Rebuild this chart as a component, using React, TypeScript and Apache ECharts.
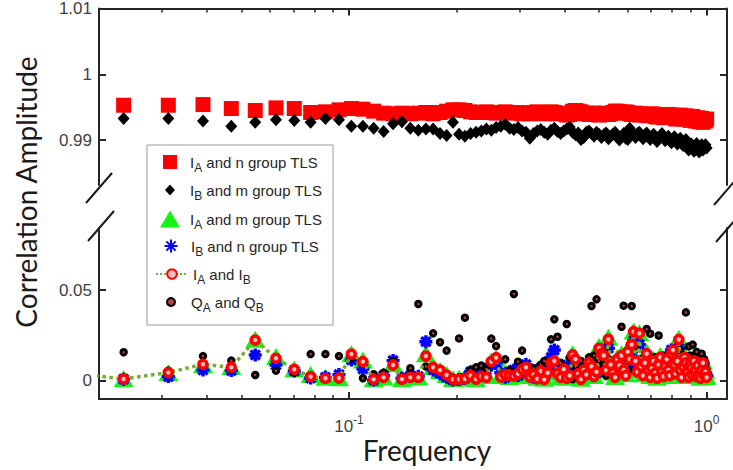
import React, { useEffect, useRef } from 'react';
import * as echarts from 'echarts';

// Frequency grid: k / 128 for k = 3 .. 128 (the I_A/I_B line also has a point at k = 2)
const K_START = 3;
const FREQ_STEP = 1 / 128;

const X_MIN = 0.02;
const X_MAX = 1.14;
const X_TICKS_MINOR = [0.03, 0.04, 0.05, 0.06, 0.07, 0.08, 0.09, 0.2, 0.3, 0.4, 0.5, 0.6, 0.7, 0.8, 0.9];
const X_TICKS_MAJOR = [0.1, 1];
const Y_TOP_RANGE = [0.98318, 1.01];
const Y_BOTTOM_RANGE = [-0.0099, 0.0841];
const Y_TOP_TICKS = [0.99, 1, 1.01];
const Y_BOTTOM_TICKS = [0, 0.05];

// I_A and n group TLS (red squares), k = 3..128
const IA_N_TLS = [
  0.9953, 0.9953, 0.9954, 0.9948, 0.9945, 0.9949, 0.9948, 0.9942, 0.9943, 0.9946,
  0.9948, 0.9947, 0.9944, 0.9941, 0.9940, 0.9941, 0.9940, 0.9941, 0.9942, 0.9940,
  0.9942, 0.9944, 0.9946, 0.9946, 0.9945, 0.9943, 0.9942, 0.9942, 0.9943, 0.9942,
  0.9941, 0.9942, 0.9943, 0.9942, 0.9941, 0.9942, 0.9940, 0.9941, 0.9940, 0.9942,
  0.9943, 0.9941, 0.9940, 0.9942, 0.9943, 0.9942, 0.9940, 0.9941, 0.9940, 0.9938,
  0.9939, 0.9944, 0.9945, 0.9944, 0.9943, 0.9940, 0.9941, 0.9939, 0.9940, 0.9941,
  0.9939, 0.9938, 0.9940, 0.9941, 0.9940, 0.9939, 0.9940, 0.9942, 0.9944, 0.9944,
  0.9943, 0.9942, 0.9941, 0.9943, 0.9942, 0.9940, 0.9939, 0.9940, 0.9941, 0.9939,
  0.9938, 0.9940, 0.9939, 0.9938, 0.9939, 0.9937, 0.9938, 0.9940, 0.9939, 0.9936,
  0.9935, 0.9937, 0.9938, 0.9936, 0.9934, 0.9937, 0.9938, 0.9939, 0.9937, 0.9936,
  0.9938, 0.9935, 0.9932, 0.9936, 0.9937, 0.9938, 0.9934, 0.9932, 0.9935, 0.9937,
  0.9936, 0.9933, 0.9930, 0.9934, 0.9936, 0.9932, 0.9929, 0.9931, 0.9934, 0.9928,
  0.9930, 0.9933, 0.9927, 0.9931, 0.9929, 0.9932,
];

// I_B and m group TLS (black diamonds), k = 3..128
const IB_M_TLS = [
  0.9933, 0.9933, 0.9929, 0.9921, 0.9927, 0.9931, 0.9930, 0.9927, 0.9933, 0.9931,
  0.9921, 0.9921, 0.9918, 0.9913, 0.9925, 0.9928, 0.9918, 0.9915, 0.9917, 0.9917,
  0.9910, 0.9907, 0.9927, 0.9909, 0.9906, 0.9910, 0.9912, 0.9914, 0.9917, 0.9915,
  0.9919, 0.9921, 0.9924, 0.9918, 0.9916, 0.9919, 0.9914, 0.9912, 0.9903, 0.9910,
  0.9914, 0.9916, 0.9912, 0.9909, 0.9915, 0.9918, 0.9913, 0.9910, 0.9914, 0.9917,
  0.9920, 0.9912, 0.9908, 0.9911, 0.9901, 0.9904, 0.9912, 0.9914, 0.9910, 0.9906,
  0.9912, 0.9909, 0.9904, 0.9908, 0.9911, 0.9902, 0.9906, 0.9909, 0.9912, 0.9905,
  0.9900, 0.9906, 0.9910, 0.9903, 0.9901, 0.9918, 0.9912, 0.9908, 0.9904, 0.9910,
  0.9912, 0.9906, 0.9902, 0.9908, 0.9911, 0.9905, 0.9901, 0.9906, 0.9909, 0.9903,
  0.9898, 0.9902, 0.9907, 0.9910, 0.9904, 0.9899, 0.9903, 0.9906, 0.9901, 0.9896,
  0.9900, 0.9905, 0.9899, 0.9894, 0.9898, 0.9903, 0.9897, 0.9892, 0.9896, 0.9901,
  0.9890, 0.9885, 0.9889, 0.9894, 0.9886, 0.9883, 0.9891, 0.9895, 0.9886, 0.9882,
  0.9889, 0.9893, 0.9885, 0.9890, 0.9893, 0.9888,
];

// I_A and m group TLS (green triangles), k = 3..128
const IA_M_TLS = [
  0.0012, 0.0045, 0.0090, 0.0080, 0.0230, 0.0135, 0.0066, 0.0035, 0.0020, 0.0018,
  0.0150, 0.0115, 0.0012, 0.0022, 0.0095, 0.0012, 0.0025, 0.0022, 0.0150, 0.0080,
  0.0058, 0.0035, 0.0012, 0.0015, 0.0020, 0.0045, 0.0012, 0.0030, 0.0035, 0.0110,
  0.0125, 0.0030, 0.0040, 0.0025, 0.0045, 0.0035, 0.0070, 0.0085, 0.0030, 0.0040,
  0.0020, 0.0060, 0.0015, 0.0050, 0.0110, 0.0120, 0.0050, 0.0025, 0.0070, 0.0020,
  0.0035, 0.0150, 0.0130, 0.0045, 0.0015, 0.0070, 0.0040, 0.0110, 0.0090, 0.0030,
  0.0060, 0.0190, 0.0160, 0.0150, 0.0070, 0.0240, 0.0100, 0.0050, 0.0025, 0.0130,
  0.0090, 0.0150, 0.0070, 0.0040, 0.0170, 0.0130, 0.0210, 0.0275, 0.0120, 0.0060,
  0.0265, 0.0090, 0.0040, 0.0110, 0.0160, 0.0070, 0.0030, 0.0080, 0.0120, 0.0050,
  0.0020, 0.0100, 0.0140, 0.0060, 0.0030, 0.0090, 0.0130, 0.0070, 0.0040, 0.0160,
  0.0180, 0.0100, 0.0050, 0.0120, 0.0235, 0.0070, 0.0030, 0.0090, 0.0140, 0.0110,
  0.0060, 0.0030, 0.0100, 0.0080, 0.0040, 0.0120, 0.0070, 0.0030, 0.0090, 0.0050,
  0.0020, 0.0070, 0.0110, 0.0040, 0.0060, 0.0025,
];

// I_B and n group TLS (blue asterisks), k = 3..128
const IB_N_TLS = [
  0.0010, 0.0024, 0.0060, 0.0057, 0.0143, 0.0088, 0.0055, 0.0016, 0.0020, 0.0035,
  0.0115, 0.0066, 0.0005, 0.0030, 0.0112, 0.0015, 0.0030, 0.0025, 0.0216, 0.0060,
  0.0040, 0.0020, 0.0005, 0.0008, 0.0015, 0.0050, 0.0020, 0.0040, 0.0060, 0.0090,
  0.0100, 0.0045, 0.0020, 0.0050, 0.0060, 0.0030, 0.0050, 0.0090, 0.0040, 0.0020,
  0.0035, 0.0070, 0.0020, 0.0060, 0.0130, 0.0170, 0.0060, 0.0035, 0.0080, 0.0030,
  0.0050, 0.0110, 0.0100, 0.0060, 0.0025, 0.0080, 0.0050, 0.0070, 0.0110, 0.0040,
  0.0045, 0.0150, 0.0170, 0.0120, 0.0090, 0.0180, 0.0080, 0.0060, 0.0040, 0.0100,
  0.0110, 0.0120, 0.0080, 0.0050, 0.0140, 0.0090, 0.0160, 0.0220, 0.0100, 0.0070,
  0.0200, 0.0060, 0.0050, 0.0080, 0.0130, 0.0080, 0.0040, 0.0060, 0.0090, 0.0060,
  0.0030, 0.0070, 0.0110, 0.0070, 0.0040, 0.0060, 0.0100, 0.0080, 0.0050, 0.0170,
  0.0140, 0.0070, 0.0060, 0.0090, 0.0180, 0.0080, 0.0040, 0.0060, 0.0110, 0.0080,
  0.0070, 0.0040, 0.0070, 0.0090, 0.0050, 0.0090, 0.0080, 0.0040, 0.0070, 0.0060,
  0.0030, 0.0050, 0.0090, 0.0050, 0.0040, 0.0030,
];

// I_A and I_B (red circles on dotted line): value at k = 2, then k = 3..128
const IA_IB_K2 = 0.005;
const IA_IB = [
  0.0011, 0.0046, 0.0092, 0.0075, 0.0225, 0.0125, 0.0064, 0.0024, 0.0015, 0.0016,
  0.0148, 0.0106, 0.0009, 0.0020, 0.0088, 0.0010, 0.0020, 0.0020, 0.0137, 0.0075,
  0.0060, 0.0033, 0.0010, 0.0010, 0.0012, 0.0030, 0.0010, 0.0025, 0.0020, 0.0107,
  0.0128, 0.0022, 0.0035, 0.0030, 0.0028, 0.0040, 0.0065, 0.0075, 0.0022, 0.0035,
  0.0012, 0.0055, 0.0008, 0.0045, 0.0100, 0.0110, 0.0040, 0.0020, 0.0065, 0.0015,
  0.0030, 0.0143, 0.0120, 0.0040, 0.0010, 0.0060, 0.0035, 0.0100, 0.0080, 0.0025,
  0.0050, 0.0180, 0.0150, 0.0140, 0.0060, 0.0229, 0.0090, 0.0045, 0.0020, 0.0120,
  0.0085, 0.0140, 0.0060, 0.0030, 0.0160, 0.0120, 0.0200, 0.0271, 0.0110, 0.0050,
  0.0262, 0.0080, 0.0030, 0.0100, 0.0150, 0.0060, 0.0020, 0.0070, 0.0110, 0.0045,
  0.0015, 0.0090, 0.0130, 0.0050, 0.0025, 0.0080, 0.0120, 0.0060, 0.0030, 0.0150,
  0.0170, 0.0090, 0.0040, 0.0110, 0.0228, 0.0060, 0.0020, 0.0080, 0.0130, 0.0100,
  0.0050, 0.0020, 0.0090, 0.0070, 0.0030, 0.0110, 0.0060, 0.0025, 0.0085, 0.0040,
  0.0015, 0.0060, 0.0100, 0.0030, 0.0050, 0.0020,
];

// Q_A and Q_B (black circles), k = 3..128
const QA_QB = [
  0.0158, 0.0057, 0.0137, 0.0112, 0.0033, 0.0057, 0.0046, 0.0148, 0.0148, 0.0137,
  0.0125, 0.0015, 0.0037, 0.0046, 0.0110, 0.0024, 0.0070, 0.0423, 0.0080, 0.0262,
  0.0213, 0.0167, 0.0005, 0.0234, 0.0348, 0.0060, 0.0075, 0.0085, 0.0065, 0.0233,
  0.0192, 0.0033, 0.0119, 0.0060, 0.0478, 0.0106, 0.0167, 0.0070, 0.0024, 0.0070,
  0.0040, 0.0090, 0.0110, 0.0060, 0.0229, 0.0339, 0.0243, 0.0100, 0.0050, 0.0313,
  0.0130, 0.0010, 0.0080, 0.0040, 0.0110, 0.0020, 0.0060, 0.0130, 0.0412, 0.0140,
  0.0449, 0.0110, 0.0060, 0.0090, 0.0030, 0.0120, 0.0050, 0.0080, 0.0100, 0.0040,
  0.0070, 0.0298, 0.0414, 0.0100, 0.0060, 0.0200, 0.0412, 0.0110, 0.0190, 0.0050,
  0.0120, 0.0080, 0.0030, 0.0100, 0.0286, 0.0150, 0.0260, 0.0110, 0.0070, 0.0130,
  0.0040, 0.0250, 0.0100, 0.0060, 0.0140, 0.0030, 0.0110, 0.0080, 0.0120, 0.0050,
  0.0090, 0.0140, 0.0060, 0.0100, 0.0030, 0.0170, 0.0080, 0.0120, 0.0060, 0.0377,
  0.0100, 0.0190, 0.0140, 0.0070, 0.0200, 0.0110, 0.0050, 0.0160, 0.0090, 0.0130,
  0.0040, 0.0150, 0.0070, 0.0120, 0.0100, 0.0060,
];

const NAMES = {
  ian: 'IA and n group TLS',
  ibm: 'IB and m group TLS',
  iam: 'IA and m group TLS',
  ibn: 'IB and n group TLS',
  iaib: 'IA and IB',
  qaqb: 'QA and QB',
};

const LEGEND_LABELS: Record<string, string> = {
  [NAMES.ian]: '{m|I}{s|A}{m| and n group TLS}',
  [NAMES.ibm]: '{m|I}{s|B}{m| and m group TLS}',
  [NAMES.iam]: '{m|I}{s|A}{m| and m group TLS}',
  [NAMES.ibn]: '{m|I}{s|B}{m| and n group TLS}',
  [NAMES.iaib]: '{m|I}{s|A}{m| and I}{s|B}',
  [NAMES.qaqb]: '{m|Q}{s|A}{m| and Q}{s|B}',
};

const AX = '#262626';
const TICK_FONT = 'Liberation Sans';
const TITLE_FONT = 'Lato';
const STAR_PATH = 'path://M0,-10L0,10M-10,0L10,0M-7.07,-7.07L7.07,7.07M-7.07,7.07L7.07,-7.07';

const toPts = (arr: number[]) => arr.map((v, i) => [(K_START + i) * FREQ_STEP, v]);

export default function App() {
  const ref = useRef<HTMLDivElement>(null);

  useEffect(() => {
    if (!ref.current) return;
    const chart = echarts.init(ref.current, null, { renderer: 'svg' });

    const gridL = 99;
    const gridR = 6;
    const grids = [
      { left: gridL, right: gridR, top: 8, height: 177 },
      { left: gridL, right: gridR, top: 228, height: 171 },
    ];

    const baseX = (gridIndex: number, position: string) => ({
      type: 'log',
      logBase: 10,
      gridIndex,
      position,
      min: X_MIN,
      max: X_MAX,
      splitLine: { show: false },
      axisLine: { show: true, onZero: false, lineStyle: { color: AX, width: 2 } },
    });

    const xLabelRich = {
      b: { fontSize: 17, fontFamily: TICK_FONT, color: '#404040', lineHeight: 20 },
      s: { fontSize: 12, fontFamily: TICK_FONT, color: '#404040', lineHeight: 20, padding: [0, 0, 12, 0] },
    };

    const xAxis: any[] = [
      {
        ...baseX(0, 'top'),
        axisTick: { show: true, inside: true, length: 4, customValues: X_TICKS_MINOR, lineStyle: { color: AX, width: 1.5 } },
        axisLabel: { show: false },
      },
      {
        ...baseX(1, 'bottom'),
        axisTick: { show: true, inside: true, length: 4, customValues: X_TICKS_MINOR, lineStyle: { color: AX, width: 1.5 } },
        axisLabel: {
          show: true,
          customValues: X_TICKS_MAJOR,
          margin: 17,
          formatter: (v: number) => (Math.abs(v - 1) < 1e-9 ? '{b|10}{s|0}' : '{b|10}{s|-1}'),
          rich: xLabelRich,
        },
      },
      {
        ...baseX(0, 'top'),
        axisLine: { show: false, onZero: false },
        axisTick: { show: true, inside: true, length: 7, customValues: X_TICKS_MAJOR, lineStyle: { color: AX, width: 2 } },
        axisLabel: { show: false },
      },
      {
        ...baseX(1, 'bottom'),
        axisLine: { show: false, onZero: false },
        axisTick: { show: true, inside: true, length: 7, customValues: X_TICKS_MAJOR, lineStyle: { color: AX, width: 2 } },
        axisLabel: { show: false },
      },
    ];

    const baseY = (gridIndex: number, position: string, range: number[], ticks: number[], labels: boolean) => ({
      type: 'value',
      gridIndex,
      position,
      min: range[0],
      max: range[1],
      splitLine: { show: false },
      axisLine: { show: true, onZero: false, lineStyle: { color: AX, width: 2 } },
      axisTick: { show: true, inside: true, length: 7, customValues: ticks, lineStyle: { color: AX, width: 2 } },
      axisLabel: labels
        ? { show: true, customValues: ticks, margin: 7, fontSize: 17, fontFamily: TICK_FONT, color: '#404040' }
        : { show: false },
    });

    const yAxis: any[] = [
      baseY(0, 'left', Y_TOP_RANGE, Y_TOP_TICKS, true),
      baseY(0, 'right', Y_TOP_RANGE, Y_TOP_TICKS, false),
      baseY(1, 'left', Y_BOTTOM_RANGE, Y_BOTTOM_TICKS, true),
      baseY(1, 'right', Y_BOTTOM_RANGE, Y_BOTTOM_TICKS, false),
    ];

    const series: any[] = [
      {
        name: NAMES.ian,
        type: 'scatter',
        xAxisIndex: 0,
        yAxisIndex: 0,
        symbol: 'rect',
        symbolSize: 15,
        itemStyle: { color: '#ff0000', opacity: 1 },
        data: toPts(IA_N_TLS),
      },
      {
        name: NAMES.ibm,
        type: 'scatter',
        xAxisIndex: 0,
        yAxisIndex: 0,
        symbol: 'diamond',
        symbolSize: [12, 13],
        itemStyle: { color: '#000000', opacity: 1 },
        data: toPts(IB_M_TLS),
      },
      {
        name: NAMES.iam,
        type: 'scatter',
        xAxisIndex: 1,
        yAxisIndex: 2,
        symbol: 'triangle',
        symbolSize: [20, 17],
        itemStyle: { color: '#19f019', opacity: 1 },
        data: toPts(IA_M_TLS),
      },
      {
        name: NAMES.ibn,
        type: 'scatter',
        xAxisIndex: 1,
        yAxisIndex: 2,
        symbol: STAR_PATH,
        symbolSize: 13,
        itemStyle: { color: '#0000ff', borderColor: '#0000ff', borderWidth: 3.4, opacity: 1 },
        data: toPts(IB_N_TLS),
      },
      {
        name: NAMES.iaib,
        type: 'line',
        xAxisIndex: 1,
        yAxisIndex: 2,
        symbol: 'circle',
        symbolSize: 8,
        showSymbol: true,
        showAllSymbol: true,
        clip: true,
        lineStyle: { color: '#77ac30', width: 3.5, type: 'dotted' },
        itemStyle: { color: '#ffc0c0', borderColor: '#ff0000', borderWidth: 3.6, opacity: 1 },
        data: [[2 * FREQ_STEP, IA_IB_K2], ...toPts(IA_IB)],
      },
      {
        name: NAMES.qaqb,
        type: 'scatter',
        xAxisIndex: 1,
        yAxisIndex: 2,
        symbol: 'circle',
        symbolSize: 5.5,
        itemStyle: { color: '#c04040', borderColor: '#000000', borderWidth: 3, opacity: 1 },
        data: toPts(QA_QB),
      },
    ];

    const rows = [166, 194, 222, 250, 278, 306];
    const legendSpec = [
      { name: NAMES.ian, w: 14, h: 14 },
      { name: NAMES.ibm, w: 10, h: 11 },
      { name: NAMES.iam, w: 20, h: 17 },
      { name: NAMES.ibn, w: 13, h: 13 },
      { name: NAMES.iaib, w: 32, h: 12 },
      { name: NAMES.qaqb, w: 8, h: 8 },
    ];
    const legendRich = {
      m: { fontSize: 15, fontFamily: TICK_FONT, color: '#262626' },
      s: { fontSize: 12, fontFamily: TICK_FONT, color: '#262626', padding: [11, 0, 0, 0] },
    };
    const legend = legendSpec.map((it, i) => {
      const iconCx = it.name === NAMES.iaib ? 171 : 170;
      const left = iconCx - it.w / 2;
      const textX = left + it.w + 5;
      const pad = Math.max(0, 190 - textX);
      return {
        data: [it.name],
        orient: 'vertical',
        left,
        top: rows[i] - 11.5,
        padding: 0,
        itemWidth: it.w,
        itemHeight: it.h,
        selectedMode: false,
        z: 6,
        formatter: (n: string) => LEGEND_LABELS[n],
        textStyle: { padding: [0, 0, 0, pad], rich: legendRich },
      };
    });

    const breakStyle = { stroke: '#1a1a1a', lineWidth: 2 };
    const graphic: any[] = [
      { type: 'line', shape: { x1: 86, y1: 203, x2: 112, y2: 173 }, style: breakStyle, z: 10 },
      { type: 'line', shape: { x1: 88, y1: 241, x2: 114, y2: 211 }, style: breakStyle, z: 10 },
      { type: 'line', shape: { x1: 714, y1: 205, x2: 740, y2: 175 }, style: breakStyle, z: 10 },
      { type: 'line', shape: { x1: 716, y1: 242, x2: 742, y2: 212 }, style: breakStyle, z: 10 },
      {
        type: 'rect',
        shape: { x: 147, y: 145, width: 186, height: 180 },
        style: { fill: '#ffffff', stroke: '#9a9a9a', lineWidth: 1 },
        z: 4,
      },
      {
        type: 'text',
        x: 26,
        y: 192,
        rotation: Math.PI / 2,
        style: {
          text: 'Correlation Amplitude',
          fontSize: 28,
          fontFamily: TITLE_FONT,
          fill: '#1a1a1a',
          align: 'center',
          verticalAlign: 'middle',
        },
        z: 10,
      },
      {
        type: 'text',
        x: 427,
        y: 450,
        style: {
          text: 'Frequency',
          fontSize: 28,
          fontFamily: TITLE_FONT,
          fill: '#1a1a1a',
          align: 'center',
          verticalAlign: 'middle',
        },
        z: 10,
      },
    ];

    chart.setOption({
      animation: false,
      backgroundColor: '#ffffff',
      grid: grids,
      xAxis,
      yAxis,
      legend,
      series,
      graphic,
    });

    return () => chart.dispose();
  }, []);

  return (
    <div
      ref={ref}
      style={{ position: 'absolute', left: 0, top: 0, width: 733, height: 470 }}
    />
  );
}
